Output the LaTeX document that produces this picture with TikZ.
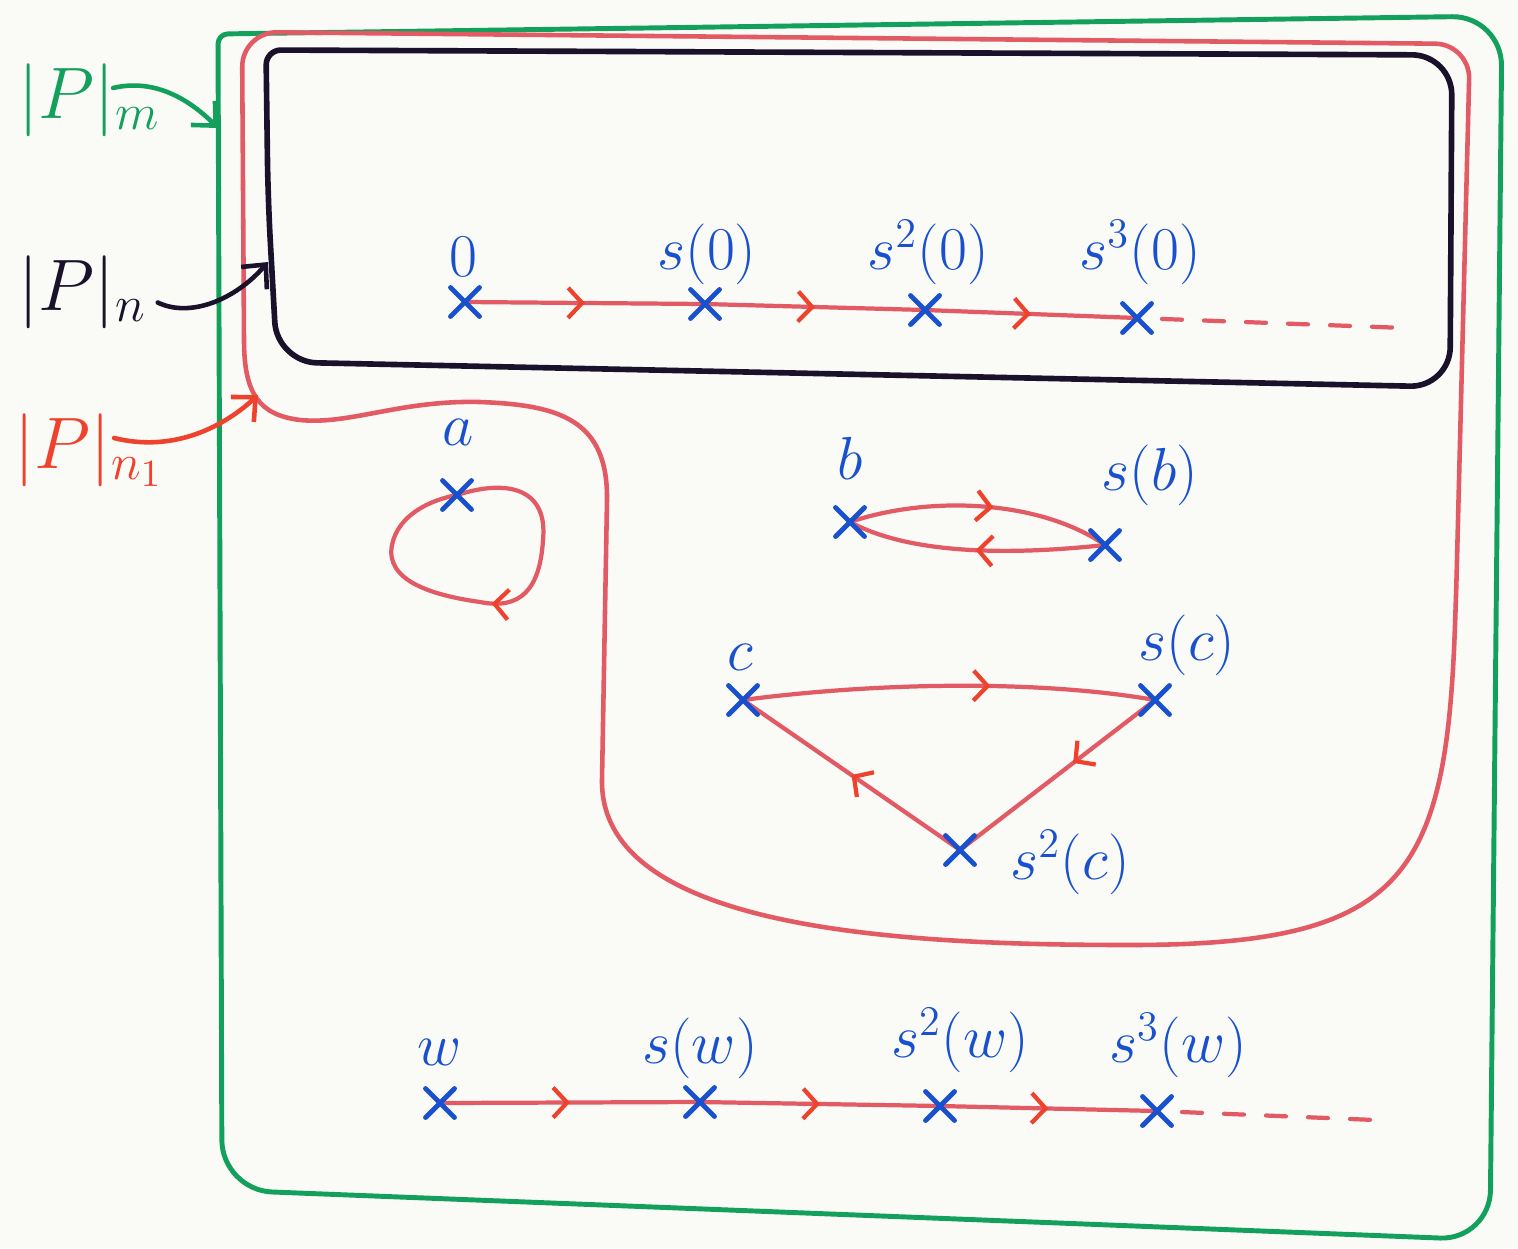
\documentclass[tikz,border=0pt]{standalone}
\usepackage{amsmath,amssymb,tikz,xcolor}
\usetikzlibrary{arrows.meta,shapes.misc,decorations.markings}
\definecolor{paper}{RGB}{250,250,247}
\definecolor{pengreen}{RGB}{18,160,92}
\definecolor{penblack}{RGB}{26,18,42}
\definecolor{penred}{RGB}{226,90,100}
\definecolor{tipred}{RGB}{238,66,44}
\definecolor{penblue}{RGB}{24,80,205}
\tikzset{
  setm/.style={draw=pengreen,line width=1.4pt},
  setn/.style={draw=penblack,line width=1.6pt},
  setn1/.style={draw=penred,line width=1.3pt},
  succ/.style={draw=penred,line width=1.2pt},
  midtip/.style={postaction={decorate},decoration={markings,
    mark=at position #1 with {\arrow{Straight Barb[length=0.14cm,width=0.3cm,color=tipred]}}}},
  midtip/.default=0.5,
  tail/.style={draw=penred,line width=1.2pt,dash pattern=on 0.2cm off 0.22cm,shorten <=0.25cm},
  xpt/.style={cross out,draw=penblue,line width=1.4pt,minimum size=0.24cm,inner sep=0pt},
  ptlbl/.style={text=penblue,font=\fontsize{18}{22}\selectfont},
  setlbl/.style={font=\fontsize{21}{25}\selectfont,inner sep=0pt,anchor=west},
  lblarrow/.style={line width=1.3pt,-{Straight Barb[length=0.18cm,width=0.34cm]}}
}
\begin{document}
\begin{tikzpicture}[x=0.01cm,y=-0.01cm,line cap=round,line join=round]
\fill[paper] (0,0) rectangle (1518,1248);
% the three sets
\draw[setm] (220,600) [rounded corners=0.1cm] -- (218,34) [rounded corners=0.5cm] -- (1502,16)
  -- (1490,1240) -- (222,1190) -- cycle;
\draw[setn] (268,200) [rounded corners=0.15cm] -- (266,50) [rounded corners=0.4cm] -- (1452,55)
  -- (1450,387) -- (277,362) -- cycle;
\draw[setn1] (1456,600) .. controls (1445,880) and (1400,945) .. (1130,945)
  .. controls (900,945) and (600,930) .. (602,780)
  -- (607,500) .. controls (608,420) and (560,405) .. (480,402)
  .. controls (400,400) and (350,425) .. (300,420)
  .. controls (260,415) and (244,395) .. (244,340)
  [rounded corners=0.35cm] -- (242,32) -- (1470,44) -- cycle;
% names of the sets
\node[setlbl,text=pengreen] (Pm) at (18,100) {$|P|_m$};
\node[setlbl,text=penblack] (Pn) at (18,292) {$|P|_n$};
\node[setlbl,text=tipred] (Pn1) at (14,450) {$|P|_{n_1}$};
\coordinate (Pm-to) at (218,128);
\coordinate (Pn-to) at (268,262);
\coordinate (Pn1-to) at (258,395);
\draw[lblarrow,pengreen] ([xshift=0.95cm,yshift=0.12cm]Pm.west) .. controls (155,78) and (190,100) .. (Pm-to);
\draw[lblarrow,penblack] ([xshift=3pt,yshift=-3pt]Pn.east) .. controls (190,318) and (235,300) .. (Pn-to);
\draw[lblarrow,tipred] ([xshift=1cm,yshift=0.12cm]Pn1.west) .. controls (170,452) and (220,430) .. (Pn1-to);
% points
\coordinate (n0) at (465,302);
\coordinate (n1) at (705,304);
\coordinate (n2) at (925,310);
\coordinate (n3) at (1137,318);
\coordinate (n-end) at (1405,328);
\coordinate (a) at (457,495);
\coordinate (b) at (850,522);
\coordinate (sb) at (1105,545);
\coordinate (c) at (743,700);
\coordinate (sc) at (1155,700);
\coordinate (ssc) at (960,850);
\coordinate (w0) at (440,1103);
\coordinate (w1) at (700,1102);
\coordinate (w2) at (940,1106);
\coordinate (w3) at (1157,1111);
\coordinate (w-end) at (1375,1120);
% successor arrows
\foreach \i/\j in {n0/n1,n1/n2,n2/n3,w0/w1,w1/w2,w2/w3} \draw[succ,midtip] (\i) -- (\j);
\draw[tail] (n3) -- (n-end);
\draw[tail] (w3) -- (w-end);
\draw[succ,midtip=0.5] (a) .. controls (510,478) and (548,490) .. (543,540)
  .. controls (540,590) and (520,610) .. (480,602)
  .. controls (430,595) and (385,580) .. (392,545)
  .. controls (398,515) and (430,500) .. (a);
\draw[succ,midtip=0.55] (b) .. controls (930,495) and (1040,500) .. (sb);
\draw[succ,midtip=0.5] (sb) .. controls (1040,552) and (920,560) .. (b);
\draw[succ,midtip=0.6] (c) .. controls (880,682) and (1040,680) .. (sc);
\draw[succ,midtip=0.42] (sc) -- (ssc);
\draw[succ,midtip=0.5] (ssc) -- (c);
\foreach \p in {n0,n1,n2,n3,a,b,sb,c,sc,ssc,w0,w1,w2,w3} \node[xpt] at (\p) {};
% labels
\node[ptlbl] at (463,257) {$0$};
\node[ptlbl] at (707,254) {$s(0)$};
\node[ptlbl] at (928,252) {$s^2(0)$};
\node[ptlbl] at (1140,252) {$s^3(0)$};
\node[ptlbl] at (458,432) {$a$};
\node[ptlbl] at (850,458) {$b$};
\node[ptlbl] at (1150,475) {$s(b)$};
\node[ptlbl] at (740,657) {$c$};
\node[ptlbl] at (1187,645) {$s(c)$};
\node[ptlbl] at (1070,862) {$s^2(c)$};
\node[ptlbl] at (440,1052) {$w$};
\node[ptlbl] at (700,1048) {$s(w)$};
\node[ptlbl] at (960,1040) {$s^2(w)$};
\node[ptlbl] at (1178,1045) {$s^3(w)$};
\end{tikzpicture}
\end{document}
